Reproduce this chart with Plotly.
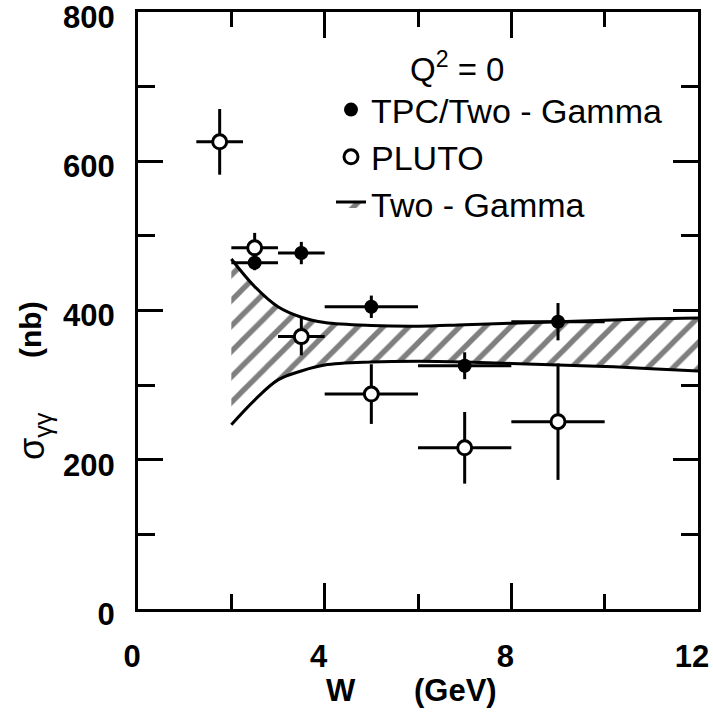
import plotly.graph_objects as go

# ---- data ----
tpc_w = [2.5, 3.5, 5.0, 7.0, 9.0]
tpc_sigma = [464, 477, 405, 326, 385]
tpc_werr = [0.5, 0.5, 1.0, 1.0, 1.0]
tpc_serr = [10, 15, 15, 18, 25]

pluto_w = [1.75, 2.5, 3.5, 5.0, 7.0, 9.0]
pluto_sigma = [626, 484, 365, 288, 216, 251]
pluto_werr = [0.5, 0.5, 0.5, 1.0, 1.0, 1.0]
pluto_serr = [44, 20, 25, 40, 48, 78]

band_w = [2.0, 2.5, 3.0, 3.5, 4.0, 5.0, 6.0, 7.0, 8.0, 9.0, 10.0, 11.0, 12.0]
band_hi = [469, 432, 405, 391, 384, 380, 379, 381, 383, 385, 387, 389, 390]
band_lo = [247, 280, 307, 319, 327, 331, 332, 331, 329, 327, 325, 322, 319]

x_ticks = [0, 4, 8, 12]
y_ticks = [0, 200, 400, 600, 800]

FONT = "Liberation Sans"

fig = go.Figure()

fig.add_trace(go.Scatter(
    x=band_w, y=band_lo, mode="lines", line=dict(color="black", width=3, shape="spline"),
    showlegend=False, hoverinfo="skip"))
fig.add_trace(go.Scatter(
    x=band_w, y=band_hi, mode="lines", line=dict(color="black", width=3, shape="spline"),
    fill="tonexty", fillcolor="white",
    fillpattern=dict(shape="/", fgcolor="black", bgcolor="white", size=18, solidity=0.3),
    name="Two - Gamma", legendrank=3, legendgroup="c"))

fig.add_trace(go.Scatter(
    x=tpc_w, y=tpc_sigma, mode="markers",
    marker=dict(symbol="circle", size=14, color="black"),
    error_x=dict(type="data", array=tpc_werr, width=0, thickness=3, color="black"),
    error_y=dict(type="data", array=tpc_serr, width=0, thickness=3, color="black"),
    name="TPC/Two - Gamma", legendrank=1, legendgroup="a"))

fig.add_trace(go.Scatter(
    x=pluto_w, y=pluto_sigma, mode="markers",
    marker=dict(symbol="circle", size=14, color="white", line=dict(color="black", width=3)),
    error_x=dict(type="data", array=pluto_werr, width=0, thickness=3, color="black"),
    error_y=dict(type="data", array=pluto_serr, width=0, thickness=3, color="black"),
    name="PLUTO", legendrank=2, legendgroup="b"))

L, R, T, B = 138, 15, 12, 108
W, H = 713, 717
pw, ph = W - L - R, H - T - B


def px_x(p):
    return (p - L) / pw


def px_y(p):
    return (H - B - p) / ph


axis_common = dict(
    showline=True, linecolor="black", linewidth=3, mirror="ticks",
    ticks="inside", tickcolor="black", tickwidth=3, automargin=False,
    showgrid=False, zeroline=False, ticklabeloverflow="allow",
    tickfont=dict(family=FONT, size=31, color="black", weight="bold"),
)

fig.update_layout(
    width=W, height=H,
    margin=dict(l=L, r=R, t=T, b=B, autoexpand=False),
    paper_bgcolor="white", plot_bgcolor="white",
    xaxis=dict(range=[0, 12], tickvals=x_ticks, ticklen=26,
               minor=dict(dtick=2, ticklen=15, tickwidth=3, tickcolor="black", ticks="inside"),
               ticklabelstandoff=18, ticklabelshift=-6, **axis_common),
    yaxis=dict(range=[0, 800], tickvals=y_ticks, ticklen=25,
               minor=dict(dtick=100, ticklen=17, tickwidth=3, tickcolor="black", ticks="inside"),
               ticklabelstandoff=14, ticklabelshift=5, **axis_common),
    legend=dict(x=px_x(331), y=px_y(81), xanchor="left", yanchor="top",
                font=dict(family=FONT, size=34, color="black"),
                bgcolor="rgba(0,0,0,0)", tracegroupgap=0, itemwidth=30),
    showlegend=True,
)

ann = [
    dict(text="Q<sup>2</sup> = 0", x=px_x(457), y=px_y(67), size=33, weight="normal", angle=0),
    dict(text="W", x=px_x(341), y=px_y(690), size=31, weight="bold", angle=0),
    dict(text="(GeV)", x=px_x(455), y=px_y(690), size=31, weight="bold", angle=0),
    dict(text="σ<sub>γγ</sub>", x=px_x(34), y=px_y(436), size=36, weight="normal", angle=-90),
    dict(text="(nb)", x=px_x(30), y=px_y(330), size=30, weight="bold", angle=-90),
]
for a in ann:
    fig.add_annotation(text=a["text"], x=a["x"], y=a["y"], xref="paper", yref="paper",
                       showarrow=False, xanchor="center", yanchor="middle", textangle=a["angle"],
                       font=dict(family=FONT, size=a["size"], color="black", weight=a["weight"]))

fig.write_html("out.html")
